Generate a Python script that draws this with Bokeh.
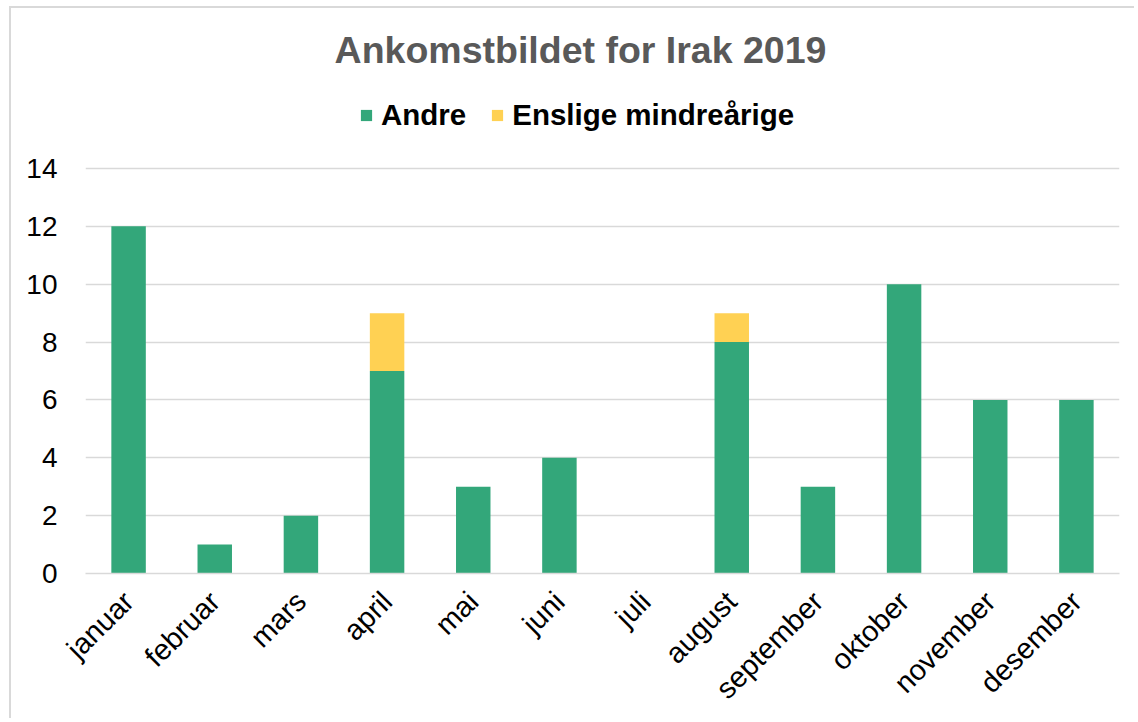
import math
from bokeh.plotting import figure
from bokeh.models import FactorRange, Range1d, FixedTicker, Label
from bokeh.embed import file_html
from bokeh.resources import INLINE

months = ["januar", "februar", "mars", "april", "mai", "juni", "juli",
          "august", "september", "oktober", "november", "desember"]
andre = [12, 1, 2, 7, 3, 4, 0, 8, 3, 10, 6, 6]
enslige = [0, 0, 0, 2, 0, 0, 0, 1, 0, 0, 0, 0]
series = ["Andre", "Enslige mindreårige"]
colors = ["#33A77A", "#FFD153"]
y_ticks = [0, 2, 4, 6, 8, 10, 12, 14]
title_text = "Ankomstbildet for Irak 2019"

FONT = "Liberation Sans"
Y_TOP = 19.53  # frame extends above 14 so title/legend can sit inside it

p = figure(x_range=FactorRange(*months, range_padding=0),
           y_range=Range1d(0, Y_TOP),
           width=1125, height=712,
           output_backend="svg", toolbar_location=None,
           min_border_left=74, min_border_right=17,
           min_border_top=0, min_border_bottom=147)
p.styles = {"margin-left": "9px", "margin-top": "6px",
            "border-left": "2px solid #d9d9d9", "border-top": "2px solid #d9d9d9"}

data = {"months": months, "Andre": andre, "Enslige mindreårige": enslige}
p.vbar_stack(series, x="months", width=0.4, color=colors, source=data,
             legend_label=series, line_width=0)

p.outline_line_color = None
p.xgrid.grid_line_color = None
p.ygrid.grid_line_color = "#d9d9d9"
p.ygrid.grid_line_width = 1.5
p.yaxis.ticker = FixedTicker(ticks=y_ticks)

p.yaxis.axis_line_color = None
p.yaxis.major_tick_line_color = None
p.yaxis.minor_tick_line_color = None
p.yaxis.major_label_text_font = FONT
p.yaxis.major_label_text_font_size = "28px"
p.yaxis.major_label_text_color = "#000000"
p.yaxis.major_label_standoff = 22

p.xaxis.axis_line_color = "#d9d9d9"
p.xaxis.axis_line_width = 1.5
p.xaxis.major_tick_line_color = None
p.xaxis.minor_tick_line_color = None
p.xaxis.major_label_orientation = math.pi / 4
p.xaxis.major_label_text_font = FONT
p.xaxis.major_label_text_font_size = "29px"
p.xaxis.major_label_text_color = "#000000"
p.xaxis.major_label_standoff = 17

leg = p.legend[0]
leg.orientation = "horizontal"
leg.location = (274, 441)
leg.padding = 0
leg.margin = 0
leg.spacing = 24
leg.label_standoff = 8
leg.glyph_width = 14
leg.glyph_height = 14
leg.border_line_color = None
leg.background_fill_alpha = 0
leg.label_text_font = FONT
leg.label_text_font_style = "bold"
leg.label_text_font_size = "29.5px"
leg.label_text_color = "#000000"

title = Label(x=6, y=14, x_offset=-22, y_offset=118, text=title_text,
              text_align="center", text_baseline="middle",
              text_font=FONT, text_font_style="bold", text_font_size="37.5px",
              text_color="#595959")
p.add_layout(title)

open("out.html", "w").write(file_html(p, INLINE))
